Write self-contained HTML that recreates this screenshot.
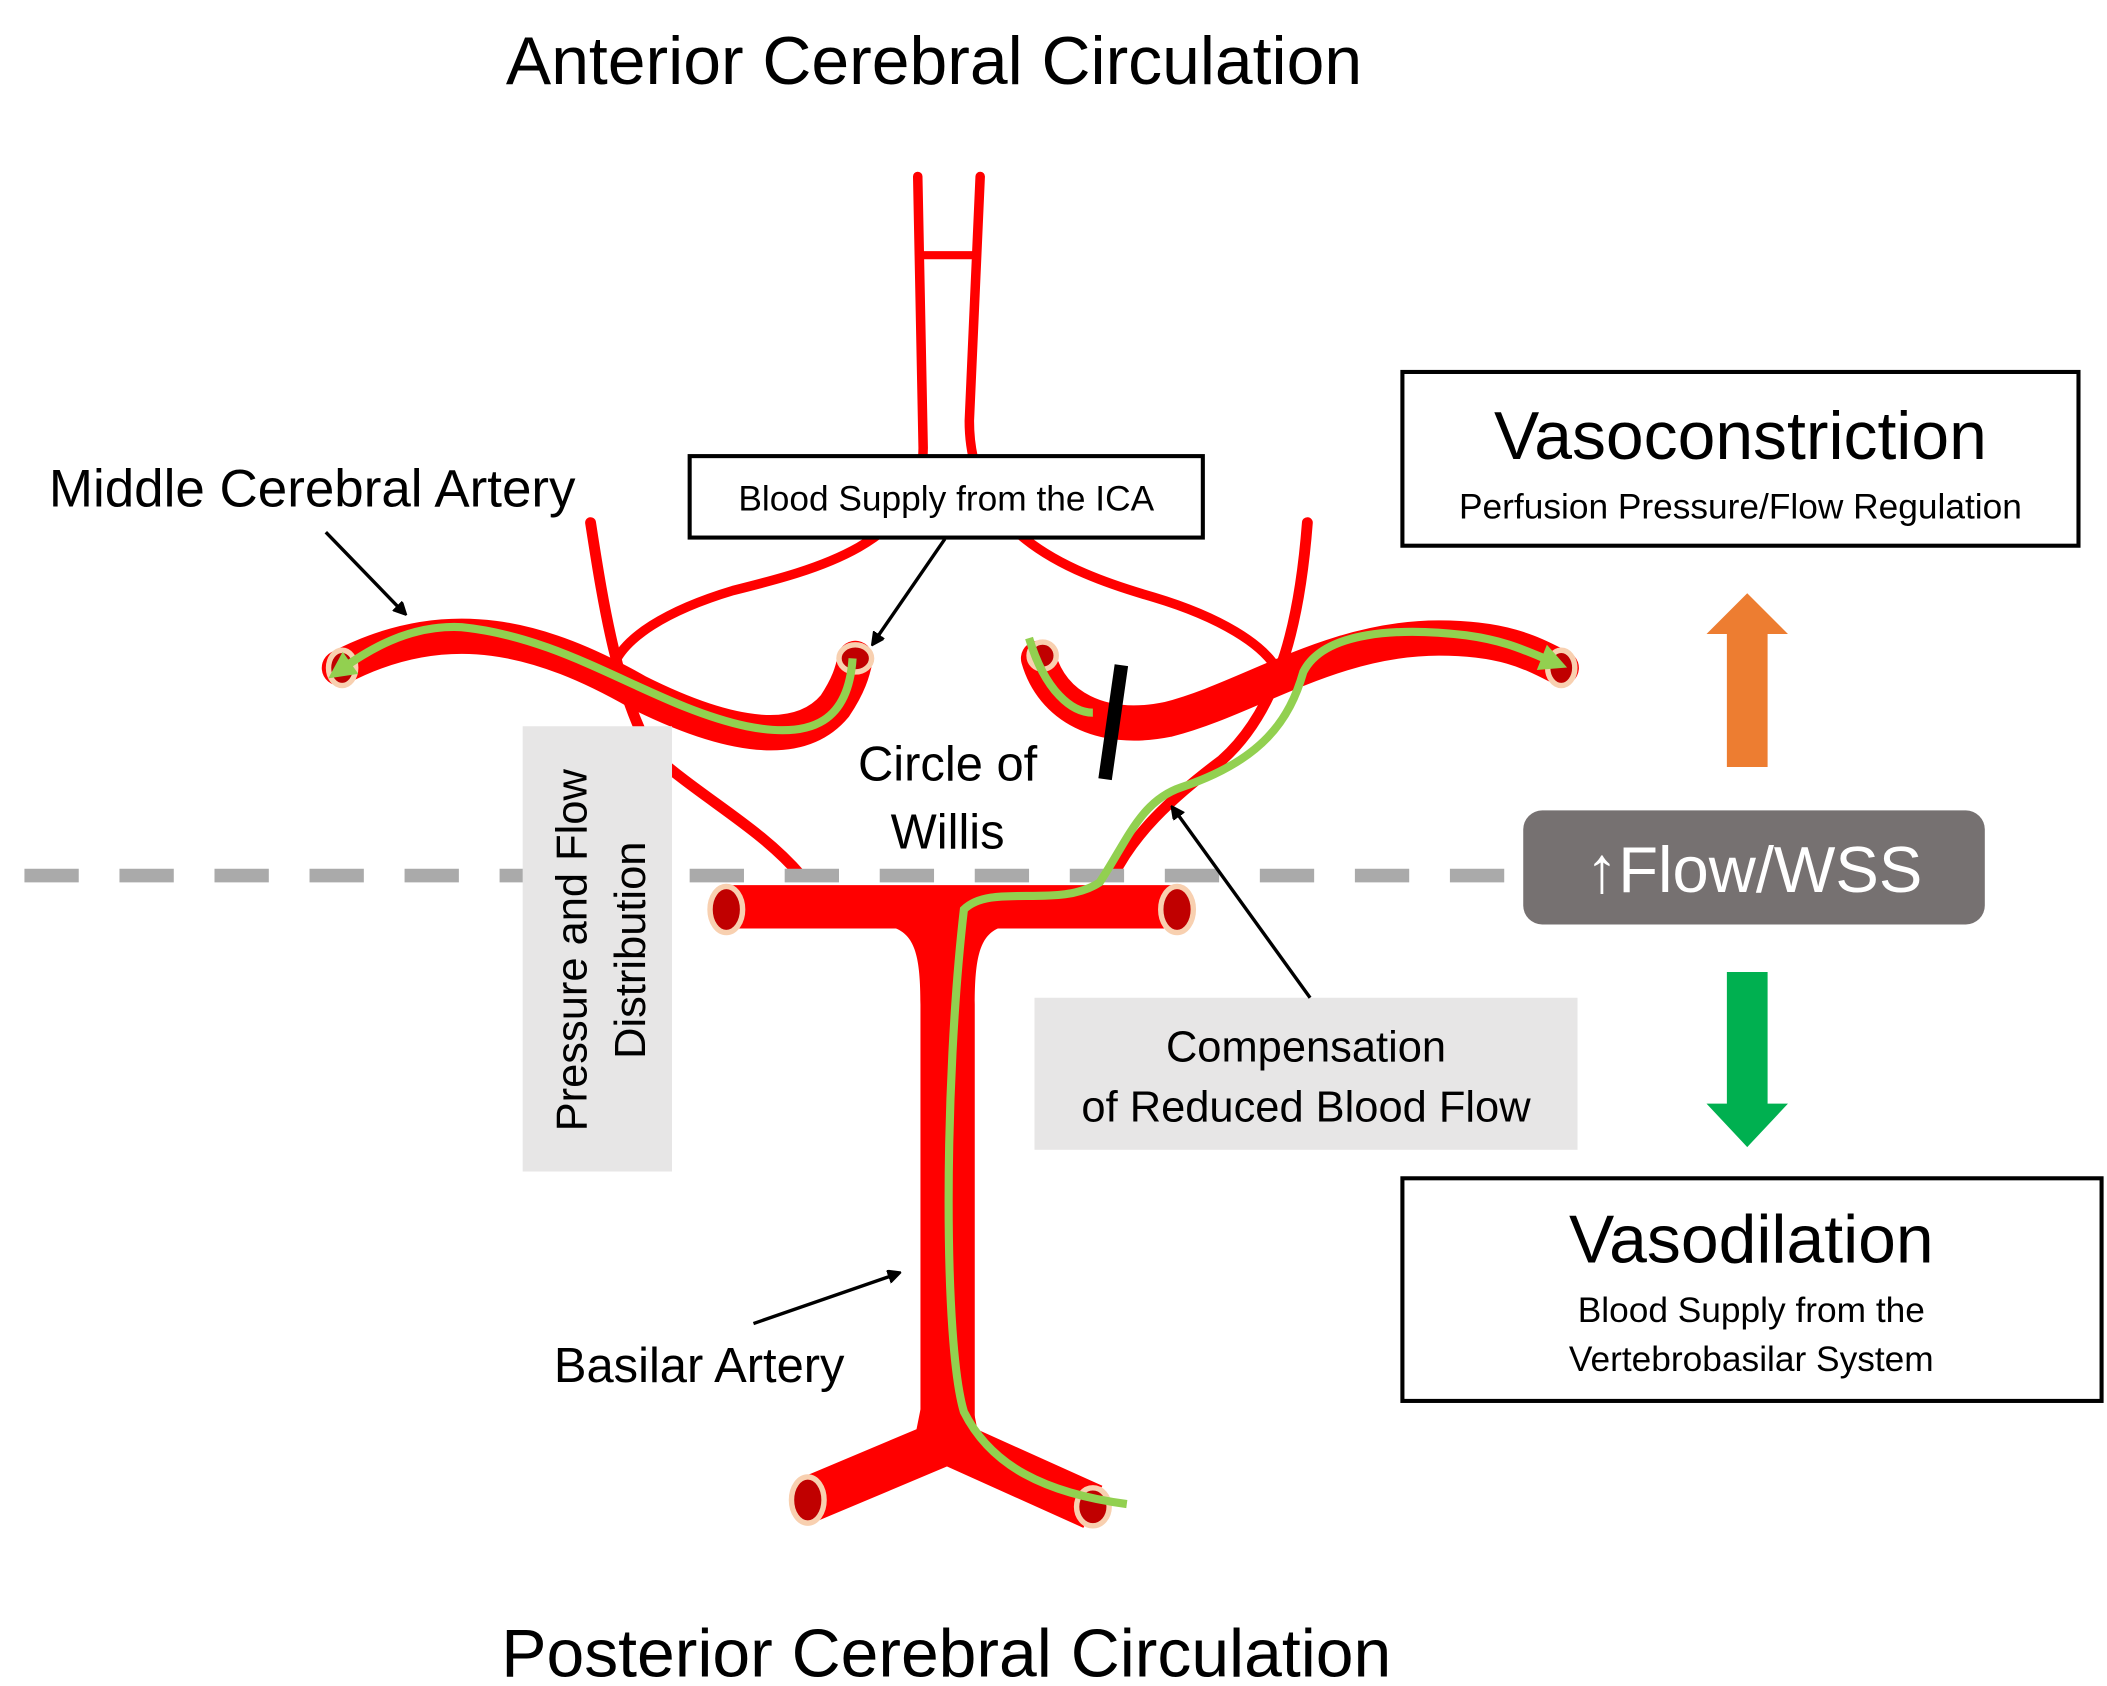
<!DOCTYPE html>
<html><head><meta charset="utf-8"><style>
html,body{margin:0;padding:0;background:#fff;}
svg{display:block;}
text{font-family:"Liberation Sans","DejaVu Sans",sans-serif;fill:#000;}
</style></head><body>
<svg width="2107" height="1686" viewBox="0 0 1552 1242" preserveAspectRatio="none" xmlns="http://www.w3.org/2000/svg">
<defs>
<marker id="ah" markerWidth="10" markerHeight="10" refX="8" refY="5" orient="auto" markerUnits="userSpaceOnUse"><path d="M0,0 L10,5 L0,10 Z" fill="#000" transform="scale(1.6) translate(-3,-2)"/></marker>
<marker id="ga" markerWidth="24" markerHeight="24" refX="12" refY="12" orient="auto" markerUnits="userSpaceOnUse"><path d="M2,2 L22,12 L2,22 Z" fill="#92d050"/></marker>
</defs>
<text x="688" y="62" font-size="50" text-anchor="middle">Anterior Cerebral Circulation</text>
<text x="697" y="1235" font-size="50" text-anchor="middle">Posterior Cerebral Circulation</text>

<!-- vessels -->
<g fill="none" stroke="#ff0000" stroke-linecap="round">
<path d="M676,130 L680,330 C680,400 600,420 540,435 C490,450 460,470 452,490" stroke-width="7"/>
<path d="M722,130 L714,310 C714,390 780,420 850,440 C900,455 930,475 940,492" stroke-width="7"/>
<path d="M678,188 L718,188" stroke-width="6"/>
<path d="M435,385 C445,450 455,510 480,555 C520,590 560,610 590,645" stroke-width="8"/>
<path d="M963,385 C958,450 945,520 900,560 C860,590 835,615 820,645" stroke-width="8"/>
<path d="M250,492 C330,450 400,470 470,510 C540,545 590,550 615,520 C625,505 628,495 630,485" stroke-width="26"/>
<path d="M765,485 C775,520 810,540 860,530 C920,515 980,470 1060,470 C1110,470 1130,482 1150,492" stroke-width="26"/>
<path d="M695,1040 L690,1065 L595,1105" stroke-width="34" stroke-linecap="butt"/>
<path d="M700,1040 L705,1065 L805,1110" stroke-width="34" stroke-linecap="butt"/>
</g>
<path d="M535,652 L865,652 L865,684 L735,684 C722,690 718,705 718,740 L718,1050 L678,1050 L678,740 C678,705 674,690 660,684 L535,684 Z" fill="#ff0000"/>
<g fill="#c00000" stroke="#f8d0b0" stroke-width="4">
<ellipse cx="535" cy="670" rx="12" ry="17"/><ellipse cx="867" cy="670" rx="12" ry="17"/>
<ellipse cx="595" cy="1105" rx="12" ry="17"/><ellipse cx="805" cy="1110" rx="12" ry="14"/>
<ellipse cx="630" cy="485" rx="12" ry="10"/><ellipse cx="768" cy="483" rx="10" ry="10"/>
<ellipse cx="252" cy="492" rx="10" ry="13"/><ellipse cx="1150" cy="492" rx="10" ry="13"/>
</g>

<!-- dashed line -->
<line x1="18" y1="645" x2="1120" y2="645" stroke="#aaaaaa" stroke-width="10" stroke-dasharray="40,30"/>

<!-- green paths -->
<g fill="none" stroke="#92d050" stroke-width="6">
<path d="M628,485 C625,530 600,545 550,535 C480,520 420,470 340,462 C300,460 270,480 250,494" marker-end="url(#ga)"/>
<path d="M758,470 C770,510 790,525 805,525"/>
<path d="M830,1108 C770,1100 730,1080 710,1040 C695,990 695,800 710,670 C730,650 780,670 810,650 C830,620 840,590 870,580 C930,560 950,530 960,495 C975,465 1030,462 1080,468 C1110,472 1125,480 1145,488" marker-end="url(#ga)"/>
</g>
<line x1="826" y1="490" x2="814" y2="574" stroke="#000" stroke-width="10"/>

<!-- labels -->
<text x="36" y="373" font-size="39">Middle Cerebral Artery</text>
<line x1="240" y1="392" x2="298" y2="452" stroke="#000" stroke-width="2.5" marker-end="url(#ah)"/>
<rect x="508" y="336" width="378" height="60" fill="#fff" stroke="#000" stroke-width="3"/>
<text x="697" y="376" font-size="26" text-anchor="middle">Blood Supply from the ICA</text>
<line x1="696" y1="397" x2="643" y2="474" stroke="#000" stroke-width="2.5" marker-end="url(#ah)"/>
<text x="698" y="575" font-size="36" text-anchor="middle">Circle of</text>
<text x="698" y="625" font-size="36" text-anchor="middle">Willis</text>

<rect x="385" y="535" width="110" height="328" fill="#e7e6e6"/>
<text transform="translate(432,700) rotate(-90)" font-size="32" text-anchor="middle">Pressure and Flow</text>
<text transform="translate(475,700) rotate(-90)" font-size="32" text-anchor="middle">Distribution</text>

<rect x="762" y="735" width="400" height="112" fill="#e7e6e6"/>
<text x="962" y="782" font-size="32" text-anchor="middle">Compensation</text>
<text x="962" y="826" font-size="32" text-anchor="middle">of Reduced Blood Flow</text>
<line x1="965" y1="735" x2="864" y2="595" stroke="#000" stroke-width="2.5" marker-end="url(#ah)"/>

<text x="408" y="1018" font-size="36">Basilar Artery</text>
<line x1="555" y1="975" x2="662" y2="938" stroke="#000" stroke-width="2.5" marker-end="url(#ah)"/>

<!-- right side -->
<rect x="1033" y="274" width="498" height="128" fill="#fff" stroke="#000" stroke-width="3"/>
<text x="1282" y="338" font-size="50" text-anchor="middle">Vasoconstriction</text>
<text x="1282" y="382" font-size="26" text-anchor="middle">Perfusion Pressure/Flow Regulation</text>
<path d="M1272,565 L1272,467 L1257,467 L1287,437 L1317,467 L1302,467 L1302,565 Z" fill="#ed7d31"/>
<rect x="1122" y="597" width="340" height="84" rx="14" fill="#767171"/>
<text x="1292" y="657" font-size="48" text-anchor="middle" style="fill:#fff">↑Flow/WSS</text>
<path d="M1272,716 L1302,716 L1302,813 L1317,813 L1287,845 L1257,813 L1272,813 Z" fill="#00b050"/>
<rect x="1033" y="868" width="515" height="164" fill="#fff" stroke="#000" stroke-width="3"/>
<text x="1290" y="930" font-size="50" text-anchor="middle">Vasodilation</text>
<text x="1290" y="974" font-size="26" text-anchor="middle">Blood Supply from the</text>
<text x="1290" y="1010" font-size="26" text-anchor="middle">Vertebrobasilar System</text>
</svg>
</body></html>
